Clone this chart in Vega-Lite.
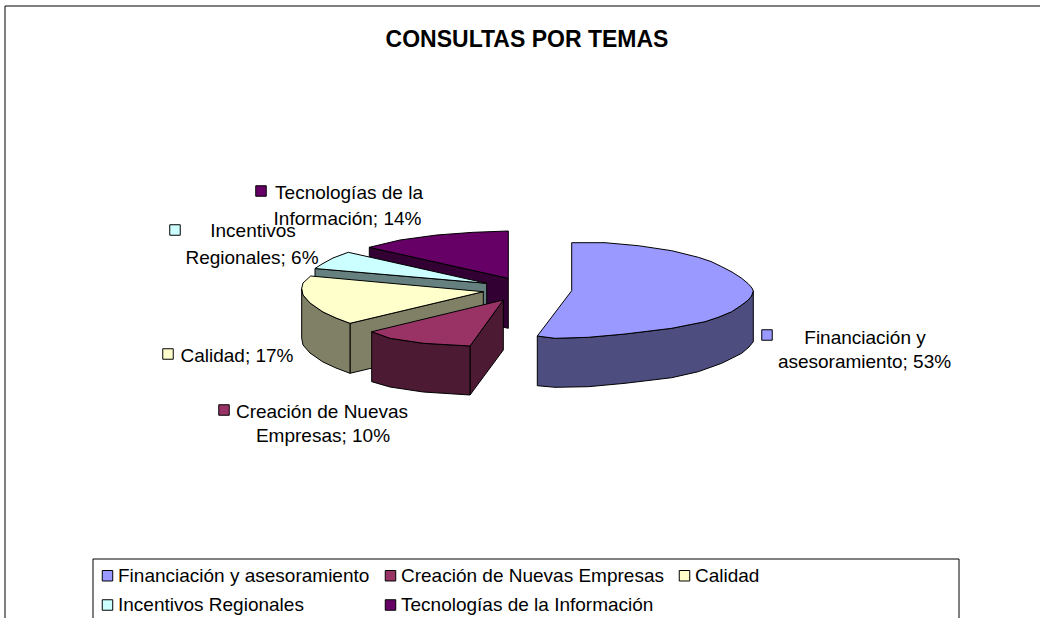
{"$schema":"https://vega.github.io/schema/vega-lite/v6.json","width":1040,"height":618,"padding":0,"autosize":{"type":"none"},"background":"white","view":{"stroke":null},
"title":{"text":"CONSULTAS POR TEMAS","font":"Liberation Sans","fontSize":23,"fontWeight":"bold","color":"black","anchor":"middle","frame":"group","dx":7,"offset":-75,"baseline":"bottom"},
"encoding":{"x":{"field":"x","type":"quantitative","scale":{"domain":[0,1040],"range":[0,1040]},"axis":null},"y":{"field":"y","type":"quantitative","scale":{"domain":[0,618],"range":[0,618]},"axis":null},
"fill":{"field":"serie","type":"nominal","sort":null,
"scale":{"domain":["Financiación y asesoramiento","Creación de Nuevas Empresas","Calidad","Incentivos Regionales","Tecnologías de la Información","Financiación y asesoramiento (lado)","Creación de Nuevas Empresas (lado)","Calidad (lado)","Incentivos Regionales (lado)","Tecnologías de la Información (lado)"],"range":["#9999FF","#993366","#FFFFCC","#CCFFFF","#660066","#4D4D80","#4D1A33","#808066","#668080","#330033"]},
"legend":{"title":null,"orient":"none","legendX":98,"legendY":566,"columns":3,"values":["Financiación y asesoramiento","Incentivos Regionales","Creación de Nuevas Empresas","Tecnologías de la Información","Calidad"],"symbolType":"square","symbolSize":110,"symbolStrokeColor":"black","symbolStrokeWidth":1,"symbolFillColor":"white","symbolOpacity":1,"labelFont":"Liberation Sans","labelFontSize":19,"labelColor":"black","labelLimit":400,"labelOffset":1,"columnPadding":11,"rowPadding":9.5,"padding":0}}},
"datasets":{
"marcos":[{"x":5,"y":6,"x2":1100,"y2":700},{"x":93,"y":559,"x2":959,"y2":700}],
"caras":[
{"pieza":"tec-lado","serie":"Tecnologías de la Información (lado)","n":1,"x":369.3,"y":247.3},{"pieza":"tec-lado","serie":"Tecnologías de la Información (lado)","n":2,"x":508.3,"y":278.3},{"pieza":"tec-lado","serie":"Tecnologías de la Información (lado)","n":3,"x":508.3,"y":328.3},{"pieza":"tec-lado","serie":"Tecnologías de la Información (lado)","n":4,"x":369.3,"y":297.3},
{"pieza":"tec","serie":"Tecnologías de la Información","n":1,"x":369.3,"y":247.3},{"pieza":"tec","serie":"Tecnologías de la Información","n":2,"x":400,"y":240},{"pieza":"tec","serie":"Tecnologías de la Información","n":3,"x":436.7,"y":235},{"pieza":"tec","serie":"Tecnologías de la Información","n":4,"x":473.3,"y":232.3},{"pieza":"tec","serie":"Tecnologías de la Información","n":5,"x":508.3,"y":231},{"pieza":"tec","serie":"Tecnologías de la Información","n":6,"x":508.3,"y":278.3},
{"pieza":"inc-lado","serie":"Incentivos Regionales (lado)","n":1,"x":315,"y":268.5},{"pieza":"inc-lado","serie":"Incentivos Regionales (lado)","n":2,"x":486.7,"y":283.3},{"pieza":"inc-lado","serie":"Incentivos Regionales (lado)","n":3,"x":486.7,"y":333},{"pieza":"inc-lado","serie":"Incentivos Regionales (lado)","n":4,"x":315,"y":318},
{"pieza":"inc","serie":"Incentivos Regionales","n":1,"x":315,"y":268.5},{"pieza":"inc","serie":"Incentivos Regionales","n":2,"x":322,"y":264},{"pieza":"inc","serie":"Incentivos Regionales","n":3,"x":333,"y":258},{"pieza":"inc","serie":"Incentivos Regionales","n":4,"x":348.3,"y":252.3},{"pieza":"inc","serie":"Incentivos Regionales","n":5,"x":486.7,"y":283.3},
{"pieza":"cal-lado1","serie":"Calidad (lado)","n":1,"x":350,"y":323.3},{"pieza":"cal-lado1","serie":"Calidad (lado)","n":2,"x":483.3,"y":291.7},{"pieza":"cal-lado1","serie":"Calidad (lado)","n":3,"x":483.3,"y":341.7},{"pieza":"cal-lado1","serie":"Calidad (lado)","n":4,"x":350,"y":373.3},
{"pieza":"cal-lado2","serie":"Calidad (lado)","n":1,"x":301.7,"y":288.3},{"pieza":"cal-lado2","serie":"Calidad (lado)","n":2,"x":303,"y":295},{"pieza":"cal-lado2","serie":"Calidad (lado)","n":3,"x":310,"y":303},{"pieza":"cal-lado2","serie":"Calidad (lado)","n":4,"x":323,"y":312},{"pieza":"cal-lado2","serie":"Calidad (lado)","n":5,"x":336,"y":318},{"pieza":"cal-lado2","serie":"Calidad (lado)","n":6,"x":350,"y":323.3},{"pieza":"cal-lado2","serie":"Calidad (lado)","n":7,"x":350,"y":373.3},{"pieza":"cal-lado2","serie":"Calidad (lado)","n":8,"x":336,"y":368},{"pieza":"cal-lado2","serie":"Calidad (lado)","n":9,"x":323,"y":362},{"pieza":"cal-lado2","serie":"Calidad (lado)","n":10,"x":310,"y":353},{"pieza":"cal-lado2","serie":"Calidad (lado)","n":11,"x":303,"y":345},{"pieza":"cal-lado2","serie":"Calidad (lado)","n":12,"x":301.7,"y":338.3},
{"pieza":"cal","serie":"Calidad","n":1,"x":310.7,"y":276},{"pieza":"cal","serie":"Calidad","n":2,"x":303,"y":283},{"pieza":"cal","serie":"Calidad","n":3,"x":301.7,"y":288.3},{"pieza":"cal","serie":"Calidad","n":4,"x":303,"y":295},{"pieza":"cal","serie":"Calidad","n":5,"x":310,"y":303},{"pieza":"cal","serie":"Calidad","n":6,"x":323,"y":312},{"pieza":"cal","serie":"Calidad","n":7,"x":336,"y":318},{"pieza":"cal","serie":"Calidad","n":8,"x":350,"y":323.3},{"pieza":"cal","serie":"Calidad","n":9,"x":483.3,"y":291.7},
{"pieza":"cre-lado1","serie":"Creación de Nuevas Empresas (lado)","n":1,"x":470,"y":346},{"pieza":"cre-lado1","serie":"Creación de Nuevas Empresas (lado)","n":2,"x":503.3,"y":300},{"pieza":"cre-lado1","serie":"Creación de Nuevas Empresas (lado)","n":3,"x":503.3,"y":350},{"pieza":"cre-lado1","serie":"Creación de Nuevas Empresas (lado)","n":4,"x":470,"y":395},
{"pieza":"cre-lado2","serie":"Creación de Nuevas Empresas (lado)","n":1,"x":371.7,"y":331.7},{"pieza":"cre-lado2","serie":"Creación de Nuevas Empresas (lado)","n":2,"x":390,"y":338.3},{"pieza":"cre-lado2","serie":"Creación de Nuevas Empresas (lado)","n":3,"x":423.3,"y":343.3},{"pieza":"cre-lado2","serie":"Creación de Nuevas Empresas (lado)","n":4,"x":470,"y":346},{"pieza":"cre-lado2","serie":"Creación de Nuevas Empresas (lado)","n":5,"x":470,"y":395},{"pieza":"cre-lado2","serie":"Creación de Nuevas Empresas (lado)","n":6,"x":423.3,"y":392},{"pieza":"cre-lado2","serie":"Creación de Nuevas Empresas (lado)","n":7,"x":390,"y":387},{"pieza":"cre-lado2","serie":"Creación de Nuevas Empresas (lado)","n":8,"x":371.7,"y":381.7},
{"pieza":"cre","serie":"Creación de Nuevas Empresas","n":1,"x":371.7,"y":331.7},{"pieza":"cre","serie":"Creación de Nuevas Empresas","n":2,"x":390,"y":338.3},{"pieza":"cre","serie":"Creación de Nuevas Empresas","n":3,"x":423.3,"y":343.3},{"pieza":"cre","serie":"Creación de Nuevas Empresas","n":4,"x":470,"y":346},{"pieza":"cre","serie":"Creación de Nuevas Empresas","n":5,"x":503.3,"y":300},
{"pieza":"fin-lado","serie":"Financiación y asesoramiento (lado)","n":1,"x":753.3,"y":291},{"pieza":"fin-lado","serie":"Financiación y asesoramiento (lado)","n":2,"x":751.5,"y":296},{"pieza":"fin-lado","serie":"Financiación y asesoramiento (lado)","n":3,"x":748.3,"y":300},{"pieza":"fin-lado","serie":"Financiación y asesoramiento (lado)","n":4,"x":741,"y":305.5},{"pieza":"fin-lado","serie":"Financiación y asesoramiento (lado)","n":5,"x":731.7,"y":311.7},{"pieza":"fin-lado","serie":"Financiación y asesoramiento (lado)","n":6,"x":719,"y":317},{"pieza":"fin-lado","serie":"Financiación y asesoramiento (lado)","n":7,"x":705,"y":321.7},{"pieza":"fin-lado","serie":"Financiación y asesoramiento (lado)","n":8,"x":671.7,"y":328.3},{"pieza":"fin-lado","serie":"Financiación y asesoramiento (lado)","n":9,"x":625,"y":334},{"pieza":"fin-lado","serie":"Financiación y asesoramiento (lado)","n":10,"x":588.3,"y":337.3},{"pieza":"fin-lado","serie":"Financiación y asesoramiento (lado)","n":11,"x":555,"y":338.3},{"pieza":"fin-lado","serie":"Financiación y asesoramiento (lado)","n":12,"x":537.3,"y":336},{"pieza":"fin-lado","serie":"Financiación y asesoramiento (lado)","n":13,"x":537.3,"y":385.7},{"pieza":"fin-lado","serie":"Financiación y asesoramiento (lado)","n":14,"x":555,"y":387.3},{"pieza":"fin-lado","serie":"Financiación y asesoramiento (lado)","n":15,"x":588.3,"y":386.7},{"pieza":"fin-lado","serie":"Financiación y asesoramiento (lado)","n":16,"x":625,"y":383.3},{"pieza":"fin-lado","serie":"Financiación y asesoramiento (lado)","n":17,"x":671.7,"y":377.7},{"pieza":"fin-lado","serie":"Financiación y asesoramiento (lado)","n":18,"x":698.3,"y":371.7},{"pieza":"fin-lado","serie":"Financiación y asesoramiento (lado)","n":19,"x":721.7,"y":363.3},{"pieza":"fin-lado","serie":"Financiación y asesoramiento (lado)","n":20,"x":741.7,"y":353.3},{"pieza":"fin-lado","serie":"Financiación y asesoramiento (lado)","n":21,"x":749,"y":347},{"pieza":"fin-lado","serie":"Financiación y asesoramiento (lado)","n":22,"x":753.3,"y":341.7},
{"pieza":"fin","serie":"Financiación y asesoramiento","n":1,"x":571.7,"y":242.7},{"pieza":"fin","serie":"Financiación y asesoramiento","n":2,"x":605,"y":242.7},{"pieza":"fin","serie":"Financiación y asesoramiento","n":3,"x":638.3,"y":245.7},{"pieza":"fin","serie":"Financiación y asesoramiento","n":4,"x":671.7,"y":250.7},{"pieza":"fin","serie":"Financiación y asesoramiento","n":5,"x":698.3,"y":257.3},{"pieza":"fin","serie":"Financiación y asesoramiento","n":6,"x":711,"y":261.5},{"pieza":"fin","serie":"Financiación y asesoramiento","n":7,"x":721.7,"y":266.7},{"pieza":"fin","serie":"Financiación y asesoramiento","n":8,"x":732,"y":272},{"pieza":"fin","serie":"Financiación y asesoramiento","n":9,"x":741.7,"y":278.3},{"pieza":"fin","serie":"Financiación y asesoramiento","n":10,"x":748,"y":283.5},{"pieza":"fin","serie":"Financiación y asesoramiento","n":11,"x":752,"y":288},{"pieza":"fin","serie":"Financiación y asesoramiento","n":12,"x":753.3,"y":291},{"pieza":"fin","serie":"Financiación y asesoramiento","n":13,"x":751.5,"y":296},{"pieza":"fin","serie":"Financiación y asesoramiento","n":14,"x":748.3,"y":300},{"pieza":"fin","serie":"Financiación y asesoramiento","n":15,"x":741,"y":305.5},{"pieza":"fin","serie":"Financiación y asesoramiento","n":16,"x":731.7,"y":311.7},{"pieza":"fin","serie":"Financiación y asesoramiento","n":17,"x":719,"y":317},{"pieza":"fin","serie":"Financiación y asesoramiento","n":18,"x":705,"y":321.7},{"pieza":"fin","serie":"Financiación y asesoramiento","n":19,"x":671.7,"y":328.3},{"pieza":"fin","serie":"Financiación y asesoramiento","n":20,"x":625,"y":334},{"pieza":"fin","serie":"Financiación y asesoramiento","n":21,"x":588.3,"y":337.3},{"pieza":"fin","serie":"Financiación y asesoramiento","n":22,"x":555,"y":338.3},{"pieza":"fin","serie":"Financiación y asesoramiento","n":23,"x":537.3,"y":336},{"pieza":"fin","serie":"Financiación y asesoramiento","n":24,"x":571.7,"y":290.7}
],
"marcadores":[
{"serie":"Financiación y asesoramiento","valor":53,"x":767,"y":335},
{"serie":"Creación de Nuevas Empresas","valor":10,"x":224,"y":410},
{"serie":"Calidad","valor":17,"x":168,"y":354},
{"serie":"Incentivos Regionales","valor":6,"x":175,"y":230},
{"serie":"Tecnologías de la Información","valor":14,"x":261,"y":191}
],
"etiquetas":[
{"t":"Tecnologías de la","x":349,"y":193},{"t":"Información; 14%","x":347.5,"y":219},
{"t":"Incentivos","x":253,"y":231},{"t":"Regionales; 6%","x":252,"y":258},
{"t":"Calidad; 17%","x":237,"y":356},
{"t":"Creación de Nuevas","x":322,"y":412},{"t":"Empresas; 10%","x":323,"y":436},
{"t":"Financiación y","x":865,"y":338},{"t":"asesoramiento; 53%","x":864.5,"y":362}
]},
"layer":[
{"data":{"name":"marcos"},"mark":{"type":"rect","fill":"white","stroke":"black","strokeWidth":1,"clip":true},
"encoding":{"fill":{"value":"white"},"x2":{"field":"x2"},"y2":{"field":"y2"}}},
{"data":{"name":"caras"},"mark":{"type":"line","interpolate":"linear-closed","stroke":"black","strokeWidth":1,"strokeJoin":"round"},
"encoding":{"order":{"field":"n","type":"quantitative"},"detail":{"field":"pieza"}}},
{"data":{"name":"marcadores"},"mark":{"type":"point","shape":"square","filled":true,"size":110,"stroke":"black","strokeWidth":1,"opacity":1}},
{"data":{"name":"etiquetas"},"mark":{"type":"text","font":"Liberation Sans","fontSize":19,"color":"black","align":"center","baseline":"middle"},
"encoding":{"fill":{"value":"black"},"text":{"field":"t","type":"nominal"}}}
]}
